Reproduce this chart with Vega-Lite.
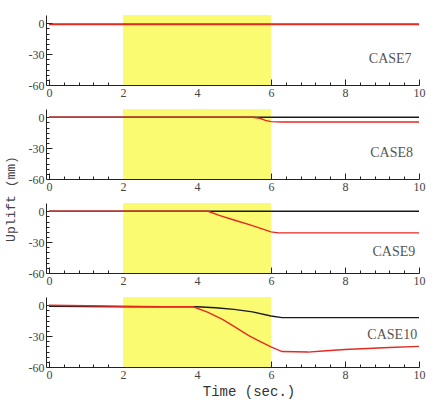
{
  "$schema": "https://vega.github.io/schema/vega-lite/v6.json",
  "background": "white",
  "padding": {"left": 4, "top": 15, "right": 20, "bottom": 5},
  "title": {"text": "Time (sec.)", "orient": "bottom", "anchor": "middle", "font": "Liberation Mono", "fontSize": 14, "fontWeight": "normal", "color": "#333", "offset": 2, "dx": 34},
  "data": {"values": [
    {"case": "CASE7", "series": "A", "t": 0, "v": -1},
    {"case": "CASE7", "series": "A", "t": 5, "v": -1},
    {"case": "CASE7", "series": "A", "t": 10, "v": -1},
    {"case": "CASE7", "series": "B", "t": 0, "v": -1.3},
    {"case": "CASE7", "series": "B", "t": 5, "v": -1.3},
    {"case": "CASE7", "series": "B", "t": 10, "v": -1.3},
    {"case": "CASE7", "series": "label", "t": 9.8, "v": -35},
    {"case": "CASE8", "series": "A", "t": 0, "v": 0},
    {"case": "CASE8", "series": "A", "t": 5, "v": 0},
    {"case": "CASE8", "series": "A", "t": 10, "v": 0},
    {"case": "CASE8", "series": "B", "t": 0, "v": 0},
    {"case": "CASE8", "series": "B", "t": 5.5, "v": 0},
    {"case": "CASE8", "series": "B", "t": 5.7, "v": -1},
    {"case": "CASE8", "series": "B", "t": 5.85, "v": -3},
    {"case": "CASE8", "series": "B", "t": 6.0, "v": -4.3},
    {"case": "CASE8", "series": "B", "t": 6.3, "v": -4.6},
    {"case": "CASE8", "series": "B", "t": 8, "v": -4.6},
    {"case": "CASE8", "series": "B", "t": 10, "v": -4.6},
    {"case": "CASE8", "series": "label", "t": 9.84, "v": -35},
    {"case": "CASE9", "series": "A", "t": 0, "v": 0},
    {"case": "CASE9", "series": "A", "t": 5, "v": 0},
    {"case": "CASE9", "series": "A", "t": 10, "v": 0},
    {"case": "CASE9", "series": "B", "t": 0, "v": 0},
    {"case": "CASE9", "series": "B", "t": 4.3, "v": 0},
    {"case": "CASE9", "series": "B", "t": 4.6, "v": -4},
    {"case": "CASE9", "series": "B", "t": 5.0, "v": -8.5},
    {"case": "CASE9", "series": "B", "t": 5.5, "v": -14},
    {"case": "CASE9", "series": "B", "t": 6.0, "v": -20},
    {"case": "CASE9", "series": "B", "t": 6.2, "v": -21},
    {"case": "CASE9", "series": "B", "t": 8, "v": -21},
    {"case": "CASE9", "series": "B", "t": 10, "v": -21},
    {"case": "CASE9", "series": "label", "t": 9.9, "v": -40},
    {"case": "CASE10", "series": "A", "t": 0, "v": -1},
    {"case": "CASE10", "series": "A", "t": 2, "v": -1.5},
    {"case": "CASE10", "series": "A", "t": 4, "v": -1.5},
    {"case": "CASE10", "series": "A", "t": 4.5, "v": -2.5},
    {"case": "CASE10", "series": "A", "t": 5, "v": -4},
    {"case": "CASE10", "series": "A", "t": 5.5, "v": -6.5},
    {"case": "CASE10", "series": "A", "t": 6, "v": -10.5},
    {"case": "CASE10", "series": "A", "t": 6.3, "v": -12},
    {"case": "CASE10", "series": "A", "t": 8, "v": -12},
    {"case": "CASE10", "series": "A", "t": 10, "v": -12},
    {"case": "CASE10", "series": "B", "t": 0, "v": 0},
    {"case": "CASE10", "series": "B", "t": 1, "v": -0.5},
    {"case": "CASE10", "series": "B", "t": 2, "v": -1},
    {"case": "CASE10", "series": "B", "t": 3, "v": -1.5},
    {"case": "CASE10", "series": "B", "t": 3.9, "v": -1.5},
    {"case": "CASE10", "series": "B", "t": 4.3, "v": -7},
    {"case": "CASE10", "series": "B", "t": 4.7, "v": -14},
    {"case": "CASE10", "series": "B", "t": 5.0, "v": -20.5},
    {"case": "CASE10", "series": "B", "t": 5.4, "v": -29.5},
    {"case": "CASE10", "series": "B", "t": 5.7, "v": -35},
    {"case": "CASE10", "series": "B", "t": 6.0, "v": -40.5},
    {"case": "CASE10", "series": "B", "t": 6.3, "v": -45},
    {"case": "CASE10", "series": "B", "t": 7.0, "v": -45.5},
    {"case": "CASE10", "series": "B", "t": 7.4, "v": -44.5},
    {"case": "CASE10", "series": "B", "t": 8.0, "v": -43},
    {"case": "CASE10", "series": "B", "t": 8.6, "v": -42},
    {"case": "CASE10", "series": "B", "t": 9.2, "v": -41},
    {"case": "CASE10", "series": "B", "t": 10, "v": -40},
    {"case": "CASE10", "series": "label", "t": 9.95, "v": -29}
  ]},
  "facet": {
    "row": {"field": "case", "type": "nominal", "sort": ["CASE7", "CASE8", "CASE9", "CASE10"],
      "title": "Uplift (mm)",
      "header": {"labels": false, "titleOrient": "left", "titleFont": "Liberation Mono", "titleFontSize": 13, "titleFontWeight": "normal", "titleColor": "#444", "titlePadding": 0}}
  },
  "spacing": 8,
  "resolve": {"axis": {"x": "independent"}},
  "spec": {
    "width": 370,
    "height": 70,
    "layer": [
      {
        "transform": [{"filter": "datum.series == 'label'"}],
        "mark": {"type": "rect", "color": "#fbfb72"},
        "encoding": {
          "x": {"datum": 2, "type": "quantitative"},
          "x2": {"datum": 6}
        }
      },
      {
        "transform": [{"filter": "datum.series != 'label'"}],
        "mark": {"type": "line", "strokeWidth": 1.4},
        "encoding": {
          "x": {"field": "t", "type": "quantitative", "scale": {"domain": [0, 10], "nice": false},
            "axis": {"title": null, "values": [0, 0.4, 0.8, 1.2, 1.6, 2, 2.4, 2.8, 3.2, 3.6, 4, 4.4, 4.8, 5.2, 5.6, 6, 6.4, 6.8, 7.2, 7.6, 8, 8.4, 8.8, 9.2, 9.6, 10],
              "tickCount": 200,
              "labelExpr": "datum.value % 2 == 0 ? '' + datum.value : ''",
              "labelOverlap": false,
              "tickSize": {"condition": {"test": "datum.value % 2 == 0", "value": -6}, "value": -3},
              "labelPadding": 8, "grid": false, "domainColor": "#222", "tickColor": "#222",
              "labelFont": "Liberation Serif", "labelFontSize": 12, "labelColor": "#444", "labelFlush": false}},
          "y": {"field": "v", "type": "quantitative", "scale": {"domain": [-60, 8], "nice": false},
            "axis": {"title": null, "values": [0, -5, -10, -15, -20, -25, -30, -35, -40, -45, -50, -55, -60],
              "tickCount": 200,
              "labelExpr": "datum.value % 30 == 0 ? '' + datum.value : ''",
              "labelOverlap": false,
              "tickSize": {"condition": {"test": "datum.value % 30 == 0", "value": -6}, "value": -3},
              "labelPadding": 8, "grid": false, "domainColor": "#222", "tickColor": "#222",
              "labelFont": "Liberation Serif", "labelFontSize": 12, "labelColor": "#444", "labelFlush": false}},
          "color": {"field": "series", "type": "nominal", "scale": {"domain": ["A", "B"], "range": ["#1a1a1a", "#e52a22"]}, "legend": null}
        }
      },
      {
        "transform": [{"filter": "datum.series == 'label'"}],
        "mark": {"type": "text", "align": "right", "baseline": "middle", "font": "Liberation Serif", "fontSize": 14, "color": "#555"},
        "encoding": {
          "x": {"field": "t", "type": "quantitative"},
          "y": {"field": "v", "type": "quantitative"},
          "text": {"field": "case"}
        }
      }
    ]
  },
  "config": {"view": {"stroke": null}}
}
